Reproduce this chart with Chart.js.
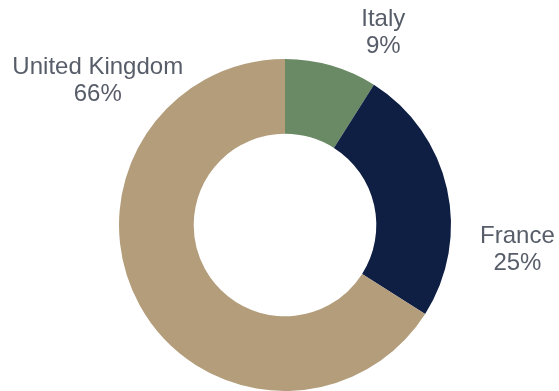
<!DOCTYPE html>
<html>
<head>
<meta charset="utf-8">
<script src="https://cdn.jsdelivr.net/npm/chart.js@4/dist/chart.umd.min.js"></script>
<style>
  html, body { margin: 0; padding: 0; background: #ffffff; }
  #wrap { width: 559px; height: 391px; position: relative; }
</style>
</head>
<body>
<div id="wrap"><canvas id="c" width="559" height="391"></canvas></div>
<script>
// Share by country
const countries = ['Italy', 'France', 'United Kingdom'];
const shares = [9, 25, 66];
const sliceColors = ['#6a8a65', '#0f1f44', '#b39d7b'];

// Label anchor for each slice, in multiples of the outer radius from the centre
const labelOffsets = [[0.592, -1.155], [1.40, 0.148], [-1.128, -0.868]];

const outsideLabels = {
  id: 'outsideLabels',
  afterDatasetsDraw(chart) {
    const ctx = chart.ctx;
    const meta = chart.getDatasetMeta(0);
    ctx.save();
    ctx.font = '24px "Liberation Sans", Arial, sans-serif';
    ctx.fillStyle = '#575d69';
    ctx.textAlign = 'center';
    ctx.textBaseline = 'middle';
    meta.data.forEach((arc, i) => {
      const r = arc.outerRadius;
      const x = arc.x + labelOffsets[i][0] * r;
      const y = arc.y + labelOffsets[i][1] * r;
      ctx.fillText(countries[i], x, y - 13.5);
      ctx.fillText(shares[i] + '%', x, y + 13.5);
    });
    ctx.restore();
  }
};

new Chart(document.getElementById('c'), {
  type: 'doughnut',
  data: {
    labels: countries,
    datasets: [{
      data: shares,
      backgroundColor: sliceColors,
      borderWidth: 0
    }]
  },
  options: {
    responsive: false,
    animation: false,
    cutout: '55%',
    layout: { padding: { top: 59, bottom: 0, left: 11, right: 0 } },
    plugins: {
      legend: { display: false },
      tooltip: { enabled: false }
    }
  },
  plugins: [outsideLabels]
});
</script>
</body>
</html>
